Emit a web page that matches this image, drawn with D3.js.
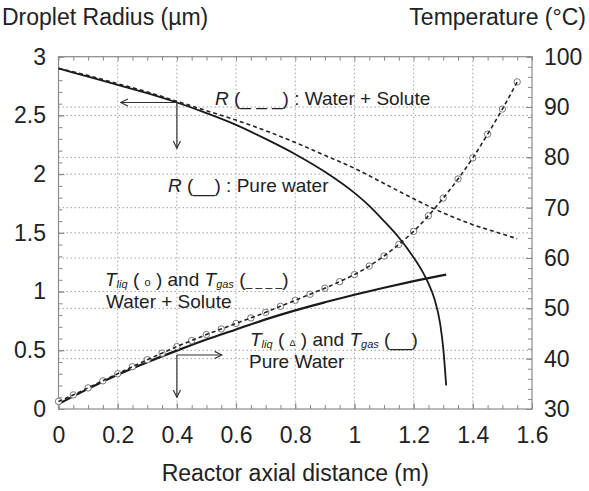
<!DOCTYPE html>
<html>
<head>
<meta charset="utf-8">
<script src="https://cdn.jsdelivr.net/npm/d3@7"></script>
<style>
  body { margin: 0; background: #fff; }
  text { font-family: "Liberation Sans", Arial, sans-serif; fill: #222; }
</style>
</head>
<body>
<div id="chart"></div>
<script>
// ---- data ----
var xTicks = [0, 0.2, 0.4, 0.6, 0.8, 1, 1.2, 1.4, 1.6];
var xTickLabels = ["0", "0.2", "0.4", "0.6", "0.8", "1", "1.2", "1.4", "1.6"];
var rTicks = [0, 0.5, 1, 1.5, 2, 2.5, 3];
var rTickLabels = ["0", "0.5", "1", "1.5", "2", "2.5", "3"];
var tTicks = [30, 40, 50, 60, 70, 80, 90, 100];
var tTickLabels = ["30", "40", "50", "60", "70", "80", "90", "100"];

// droplet radius, pure water (solid)
var rPureX = [0, 0.1, 0.2, 0.3, 0.4, 0.5, 0.6, 0.7, 0.8, 0.9, 1.0, 1.05, 1.1, 1.15, 1.2, 1.23, 1.25, 1.27, 1.29, 1.30, 1.31];
var rPure  = [2.9, 2.83, 2.76, 2.69, 2.61, 2.52, 2.42, 2.30, 2.17, 2.02, 1.84, 1.73, 1.60, 1.46, 1.29, 1.17, 1.07, 0.94, 0.72, 0.52, 0.2];

// droplet radius, water + solute (dashed)
var rSolX = [0, 0.1, 0.2, 0.3, 0.4, 0.5, 0.6, 0.7, 0.8, 0.9, 1.0, 1.1, 1.2, 1.3, 1.4, 1.5, 1.55];
var rSol  = [2.9, 2.84, 2.77, 2.70, 2.62, 2.54, 2.46, 2.37, 2.27, 2.16, 2.05, 1.92, 1.79, 1.67, 1.57, 1.49, 1.45];

// temperature, water + solute (circles = T liq, dashed = T gas)
var tSolX = [0, 0.05, 0.1, 0.15, 0.2, 0.25, 0.3, 0.35, 0.4, 0.45, 0.5, 0.55, 0.6, 0.65, 0.7, 0.75, 0.8,
             0.85, 0.9, 0.95, 1.0, 1.05, 1.1, 1.15, 1.2, 1.25, 1.3, 1.35, 1.4, 1.45, 1.5, 1.55];
var tSol  = [31.5, 32.8, 34.2, 35.6, 37.0, 38.4, 39.8, 41.1, 42.4, 43.6, 44.8, 45.9, 47.0, 48.1, 49.2, 50.4, 51.6,
             52.8, 54.0, 55.3, 56.7, 58.4, 60.4, 62.7, 65.3, 68.4, 71.9, 75.7, 79.9, 84.6, 89.6, 95.0];

// temperature, pure water (solid)
var tPureX = [0, 0.1, 0.2, 0.3, 0.4, 0.5, 0.6, 0.7, 0.8, 0.9, 1.0, 1.1, 1.2, 1.31];
var tPure  = [31.0, 34.0, 36.8, 39.3, 41.6, 43.8, 45.8, 47.8, 49.6, 51.2, 52.7, 54.1, 55.4, 56.7];

// arrows: anchor point in radius units, then end points
var arrowsR = [
  {x: 0.4, y: 2.61, x2: 0.21,  y2: 2.61},
  {x: 0.4, y: 2.61, x2: 0.4,   y2: 2.22},
  {x: 0.4, y: 0.46, x2: 0.552, y2: 0.46},
  {x: 0.4, y: 0.46, x2: 0.4,   y2: 0.10}
];

var width = 589, height = 491;
var margin = {left: 58.5, right: 57, top: 56.7, bottom: 82};

var svg = d3.select('#chart')
  .append('svg')
    .attr('width', width)
    .attr('height', height);

svg.append('rect').attr('width', width).attr('height', height).attr('fill', '#fff');

var x = d3.scaleLinear().domain([0, 1.6]).range([margin.left, width - margin.right]);
var yR = d3.scaleLinear().domain([0, 3]).range([height - margin.bottom, margin.top]);
var yT = d3.scaleLinear().domain([30, 100]).range([height - margin.bottom, margin.top]);

var x0 = x.range()[0], x1 = x.range()[1];
var yb = yR.range()[0], yt = yR.range()[1];

////////////////////
// grid           //
////////////////////
var grid = svg.append('g')
    .attr('stroke', '#a0a0a0')
    .attr('stroke-width', 1)
    .attr('stroke-dasharray', '1.5,2.5');

grid.selectAll('.gx').data(xTicks.slice(1, -1)).enter().append('line')
    .attr('x1', function(d){ return x(d) }).attr('x2', function(d){ return x(d) })
    .attr('y1', yt).attr('y2', yb);
grid.selectAll('.gr').data(rTicks.slice(1, -1)).enter().append('line')
    .attr('x1', x0).attr('x2', x1)
    .attr('y1', function(d){ return yR(d) }).attr('y2', function(d){ return yR(d) });
grid.selectAll('.gt').data(tTicks.slice(1, -1)).enter().append('line')
    .attr('x1', x0).attr('x2', x1)
    .attr('y1', function(d){ return yT(d) }).attr('y2', function(d){ return yT(d) });

////////////////////
// axes           //
////////////////////
var minorX = d3.range(0, 1.6001, 0.05);
var minorR = d3.range(0, 3.0001, 0.1);
var minorT = d3.range(30, 100.001, 2);

var styleAxis = function(g){
  g.select('.domain').remove();
  g.selectAll('.tick line').attr('stroke', '#888');
  g.selectAll('.tick text')
    .style('font-size', '23px')
    .style('font-family', '"Liberation Sans", Arial, sans-serif')
    .attr('fill', '#222');
}

svg.append('g').attr('transform', 'translate(0,' + yb + ')')
  .call(d3.axisBottom(x).tickValues(minorX).tickSize(-4).tickFormat(''))
  .call(styleAxis);
svg.append('g').attr('transform', 'translate(0,' + yb + ')')
  .call(d3.axisBottom(x).tickValues(xTicks).tickSize(-6).tickPadding(18)
    .tickFormat(function(d, i){ return xTickLabels[i] }))
  .call(styleAxis);
svg.append('g').attr('transform', 'translate(0,' + yt + ')')
  .call(d3.axisTop(x).tickValues(minorX).tickSize(-4).tickFormat(''))
  .call(styleAxis);

svg.append('g').attr('transform', 'translate(' + x0 + ',0)')
  .call(d3.axisLeft(yR).tickValues(minorR).tickSize(-4).tickFormat(''))
  .call(styleAxis);
svg.append('g').attr('transform', 'translate(' + x0 + ',0)')
  .call(d3.axisLeft(yR).tickValues(rTicks).tickSize(-6).tickPadding(12.5)
    .tickFormat(function(d, i){ return rTickLabels[i] }))
  .call(styleAxis);

svg.append('g').attr('transform', 'translate(' + x1 + ',0)')
  .call(d3.axisRight(yT).tickValues(minorT).tickSize(-4).tickFormat(''))
  .call(styleAxis);
svg.append('g').attr('transform', 'translate(' + x1 + ',0)')
  .call(d3.axisRight(yT).tickValues(tTicks).tickSize(-6).tickPadding(12)
    .tickFormat(function(d, i){ return tTickLabels[i] }))
  .call(styleAxis);

svg.append('rect')
    .attr('x', x0).attr('y', yt)
    .attr('width', x1 - x0).attr('height', yb - yt)
    .attr('fill', 'none')
    .attr('stroke', '#8a8a8a')
    .attr('stroke-width', 1.2);

////////////////////
// series         //
////////////////////
var zip = function(xs, ys){
  return xs.map(function(d, i){ return [d, ys[i]] });
}

var lineR = d3.line()
    .x(function(d){ return x(d[0]) })
    .y(function(d){ return yR(d[1]) })
    .curve(d3.curveMonotoneX);
var lineT = d3.line()
    .x(function(d){ return x(d[0]) })
    .y(function(d){ return yT(d[1]) })
    .curve(d3.curveMonotoneX);

var plot = svg.append('g').attr('fill', 'none');

// T pure water
plot.append('path')
    .attr('d', lineT(zip(tPureX, tPure)))
    .attr('stroke', '#1a1a1a')
    .attr('stroke-width', 2.2);

// T water + solute circles
plot.selectAll('circle.tsol').data(zip(tSolX, tSol)).enter().append('circle')
    .attr('class', 'tsol')
    .attr('cx', function(d){ return x(d[0]) })
    .attr('cy', function(d){ return yT(d[1]) })
    .attr('r', 3.2)
    .attr('fill', '#fff')
    .attr('stroke', '#777')
    .attr('stroke-width', 1);

// T gas water + solute dashed
plot.append('path')
    .attr('d', lineT(zip(tSolX, tSol)))
    .attr('stroke', '#222')
    .attr('stroke-width', 1.6)
    .attr('stroke-dasharray', '4,3');

// R pure water
plot.append('path')
    .attr('d', lineR(zip(rPureX, rPure)))
    .attr('stroke', '#1a1a1a')
    .attr('stroke-width', 1.8);

// R water + solute
plot.append('path')
    .attr('d', lineR(zip(rSolX, rSol)))
    .attr('stroke', '#222')
    .attr('stroke-width', 1.6)
    .attr('stroke-dasharray', '4,3');

////////////////////
// arrows         //
////////////////////
svg.append('defs').append('marker')
    .attr('id', 'head')
    .attr('viewBox', '0 0 10 10')
    .attr('refX', 9).attr('refY', 5)
    .attr('markerWidth', 9).attr('markerHeight', 9)
    .attr('markerUnits', 'userSpaceOnUse')
    .attr('orient', 'auto')
  .append('path')
    .attr('d', 'M1,1 L9,5 L1,9')
    .attr('fill', 'none')
    .attr('stroke', '#333')
    .attr('stroke-width', 1.3);

svg.append('g').selectAll('line').data(arrowsR).enter().append('line')
    .attr('x1', function(d){ return x(d.x) })
    .attr('y1', function(d){ return yR(d.y) })
    .attr('x2', function(d){ return x(d.x2) })
    .attr('y2', function(d){ return yR(d.y2) })
    .attr('stroke', '#333')
    .attr('stroke-width', 1.2)
    .attr('marker-end', 'url(#head)');

////////////////////
// texts          //
////////////////////
var label = function(px, py){
  return svg.append('text')
      .attr('x', px).attr('y', py)
      .style('font-size', '19px');
}

var sub = function(t, s){
  t.append('tspan').style('font-style', 'italic').style('font-size', '11px').attr('dy', 2).text(s);
}

var l1 = label(215, 105);
l1.append('tspan').style('font-style', 'italic').text('R');
l1.append('tspan').text(' (_ _ _) : Water  + Solute');

var l2 = label(168, 192);
l2.append('tspan').style('font-style', 'italic').text('R');
l2.append('tspan').text(' (__) : Pure water');

var l3 = label(105, 286);
l3.append('tspan').style('font-style', 'italic').text('T');
sub(l3, 'liq');
l3.append('tspan').attr('dy', -2).text(' ( ');
l3.append('tspan').style('font-size', '11px').text('o');
l3.append('tspan').text(' ) and ');
l3.append('tspan').style('font-style', 'italic').text('T');
sub(l3, 'gas');
l3.append('tspan').attr('dy', -2).text(' (');
l3.append('tspan').style('font-size', '12px').text('_ _ _ _');
l3.append('tspan').text(')');
label(106, 308).text('Water + Solute');

var l4 = label(250, 346);
l4.append('tspan').style('font-style', 'italic').text('T');
sub(l4, 'liq');
l4.append('tspan').attr('dy', -2).text(' ( ');
l4.append('tspan').style('font-size', '9px').text('\u0394');
l4.append('tspan').text(' ) and ');
l4.append('tspan').style('font-style', 'italic').text('T');
sub(l4, 'gas');
l4.append('tspan').attr('dy', -2).text(' (__)');
label(249, 368).text('Pure Water');

svg.append('text')
    .attr('x', 2).attr('y', 25)
    .style('font-size', '23px')
    .text('Droplet Radius (\u00b5m)');
svg.append('text')
    .attr('x', 586).attr('y', 25)
    .attr('text-anchor', 'end')
    .style('font-size', '23px')
    .text('Temperature (\u00b0C)');
svg.append('text')
    .attr('x', (x0 + x1) / 2).attr('y', 481)
    .attr('text-anchor', 'middle')
    .style('font-size', '23px')
    .text('Reactor axial distance (m)');
</script>
</body>
</html>
